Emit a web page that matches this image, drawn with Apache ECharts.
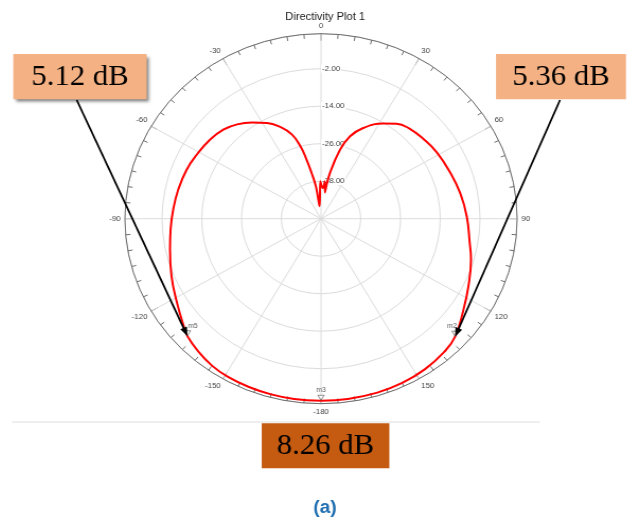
<!DOCTYPE html>
<html>
<head>
<meta charset="utf-8">
<title>Directivity Plot 1</title>
<script src="https://cdn.jsdelivr.net/npm/echarts/dist/echarts.min.js"></script>
<style>
  html, body { margin: 0; padding: 0; background: #fff; width: 633px; height: 521px; overflow: hidden; }
  /* the polar plot is drawn 6% wider than tall */
  #chart { position: absolute; left: 0; top: 0; width: 633px; height: 521px;
           transform: scaleX(1.06); transform-origin: 321px 0; }
</style>
</head>
<body>
<div id="chart"></div>
<script>
// Directivity pattern (dB) against angle (deg, 0 = top, clockwise positive)
const anglesDeg = [-180, -172, -165, -158, -151, -145, -138, -133, -131, -122,
  -112, -102, -94, -86, -78, -69, -61, -53, -46, -40,
  -34, -28, -23, -18, -15, -13, -11, -8.5, -6, -1,
  3, 5.5, 8, 10.5, 14.6, 18.4, 23.7, 31.7, 36.9, 42.8,
  50.7, 58.9, 69.4, 78.9, 89, 100, 106, 116, 124, 133,
  139, 147, 155, 163, 172, 180];
const directivityDb = [8.26, 8.25, 8.2, 8.1, 7.9, 7.4, 6.2, 5.12, 4.4, 1.2,
  -1.3, -3.4, -4.5, -5.3, -5.9, -6.5, -7.3, -8.0, -9.0, -10.6,
  -12.9, -15.3, -18.0, -21.7, -26.0, -30.6, -35.1, -39.6, -46, -38,
  -40.2, -38, -41.5, -35.1, -27.2, -22.2, -18.3, -14.2, -12.0, -10.7,
  -9.9, -9.1, -8.3, -7.2, -6.0, -4.4, -2.9, -0.5, 1.9, 5.36,
  6.6, 7.5, 8.0, 8.2, 8.25, 8.26];

// Markers
const markerNames = ['m5', 'm2', 'm3'];
const markerAngles = [-133, 133, 180];
const markerDb = [5.12, 5.36, 8.26];
const markerCallouts = ['5.12 dB', '5.36 dB', '8.26 dB'];

// Radial scale and labelled rings
const radiusMin = -50;
const radiusMax = 9.2;
const radiusStep = 12;
const ringLabels = [-38, -26, -14, -2];

// angle axis runs 0..360 internally; labels read -180..180
const toAxisAngle = a => (a < 0 ? a + 360 : a);
const angleLabel = v => {
  if (v === 360) return '';
  if (v === 180) return '-180';
  return String(v > 180 ? v - 360 : v);
};

// page-space x -> chart-space x (the chart element is widened by CSS)
const STRETCH = 1.06, CX = 321;
const cx = x => CX + (x - CX) / STRETCH;

const chart = echarts.init(document.getElementById('chart'), null, { renderer: 'canvas' });

const axisGray = '#6e6e6e';
const gridGray = '#dcdcdc';
const sans = 'Liberation Sans, Arial, sans-serif';

chart.setOption({
  backgroundColor: '#fff',
  animation: false,
  title: {
    text: 'Directivity Plot 1',
    left: 320, top: 7, textAlign: 'center',
    textStyle: { fontSize: 10.5, fontWeight: 'normal', color: '#1a1a1a', fontFamily: sans }
  },
  polar: { center: [321, 218.7], radius: 185 },
  angleAxis: {
    type: 'value', min: 0, max: 360, interval: 30,
    startAngle: 90, clockwise: true,
    axisLine: { show: true, lineStyle: { color: axisGray, width: 1 } },
    axisTick: { show: true, inside: true, length: 7, lineStyle: { color: axisGray, width: 1 } },
    minorTick: { show: true, splitNumber: 6, length: 4.5, lineStyle: { color: axisGray, width: 1 } },
    splitLine: { show: true, lineStyle: { color: gridGray, width: 1 } },
    axisLabel: { show: true, margin: 4, fontSize: 7.5, color: '#444', fontFamily: sans, formatter: angleLabel }
  },
  radiusAxis: {
    type: 'value', min: radiusMin, max: radiusMax, interval: radiusStep,
    axisLine: { show: false }, axisTick: { show: false },
    splitLine: { show: true, lineStyle: { color: gridGray, width: 1 } },
    axisLabel: {
      show: true, margin: 0, align: 'left', verticalAlign: 'middle',
      fontSize: 7.5, color: '#444', fontFamily: sans,
      backgroundColor: '#fff', padding: [0, 1],
      formatter: v => (ringLabels.indexOf(Math.round(v * 100) / 100) >= 0 ? v.toFixed(2) : '')
    }
  },
  series: [
    {
      type: 'line', coordinateSystem: 'polar', name: 'Directivity',
      data: anglesDeg.map((a, i) => [directivityDb[i], toAxisAngle(a)]),
      showSymbol: false, smooth: 0.45, z: 5,
      lineStyle: { color: '#ff0000', width: 2 }
    },
    {
      type: 'scatter', coordinateSystem: 'polar', name: 'Markers', z: 6,
      symbol: 'triangle', symbolRotate: 180, symbolSize: [6, 5], symbolOffset: [0, -3],
      itemStyle: { color: 'rgba(255,255,255,0.9)', borderColor: '#555', borderWidth: 0.8 },
      label: { show: true, position: 'top', distance: 1, fontSize: 6.5, color: '#333',
               fontFamily: sans, formatter: p => p.name },
      data: markerNames.map((n, i) => ({
        name: n, value: [markerDb[i], toAxisAngle(markerAngles[i])],
        label: { offset: [[5, 0], [-3, 0], [0, 0]][i] }
      }))
    }
  ]
});

// Callout boxes and arrows pointing at the markers
const boxes = [
  { x1: cx(13.3), x2: cx(146.7), y: 54, h: 45.3, fill: '#F4B183', shadow: true, start: [cx(76.7), 100] },
  { x1: cx(496), x2: cx(626), y: 54, h: 45.3, fill: '#F4B183', shadow: false, start: [cx(560), 100] },
  { x1: cx(261.7), x2: cx(389.3), y: 423.3, h: 45, fill: '#C55A11', shadow: false, start: null }
];

const graphics = [
  { type: 'line', z: 1, shape: { x1: cx(12), y1: 422, x2: cx(540), y2: 422 }, style: { stroke: '#dedede', lineWidth: 1 } }
];

boxes.forEach((b, i) => {
  const rectStyle = { fill: b.fill };
  if (b.shadow) {
    Object.assign(rectStyle, { shadowBlur: 3, shadowColor: 'rgba(0,0,0,0.5)', shadowOffsetX: 2, shadowOffsetY: 3 });
  }
  graphics.push({ type: 'rect', z: 10, shape: { x: b.x1, y: b.y, width: b.x2 - b.x1, height: b.h }, style: rectStyle });
  graphics.push({
    type: 'text', z: 11, x: (b.x1 + b.x2) / 2, y: b.y + b.h / 2 + 1,
    style: { text: markerCallouts[i], fill: '#000', font: '29px "Liberation Serif", "Times New Roman", serif',
             align: 'center', verticalAlign: 'middle' }
  });
  if (b.start) {
    const tip = chart.convertToPixel({ seriesIndex: 1 }, [markerDb[i], toAxisAngle(markerAngles[i])]);
    const [sx, sy] = b.start;
    const dx = tip[0] - sx, dy = tip[1] - sy;
    const len = Math.hypot(dx, dy);
    const ux = dx / len, uy = dy / len;
    const headLen = 9, headW = 3.4;
    const bx = tip[0] - ux * headLen, by = tip[1] - uy * headLen;
    graphics.push({ type: 'line', z: 12, shape: { x1: sx, y1: sy, x2: bx + ux * 2, y2: by + uy * 2 },
                    style: { stroke: '#000', lineWidth: 1.8 } });
    graphics.push({ type: 'polygon', z: 12,
                    shape: { points: [[tip[0], tip[1]], [bx - uy * headW, by + ux * headW], [bx + uy * headW, by - ux * headW]] },
                    style: { fill: '#000' } });
  }
});

graphics.push({
  type: 'text', z: 11, x: cx(325), y: 508,
  style: { text: '(a)', fill: '#1F6EB0', font: 'bold 18px "Liberation Sans", Arial, sans-serif', align: 'center', verticalAlign: 'middle' }
});

chart.setOption({ graphic: graphics });
</script>
</body>
</html>
